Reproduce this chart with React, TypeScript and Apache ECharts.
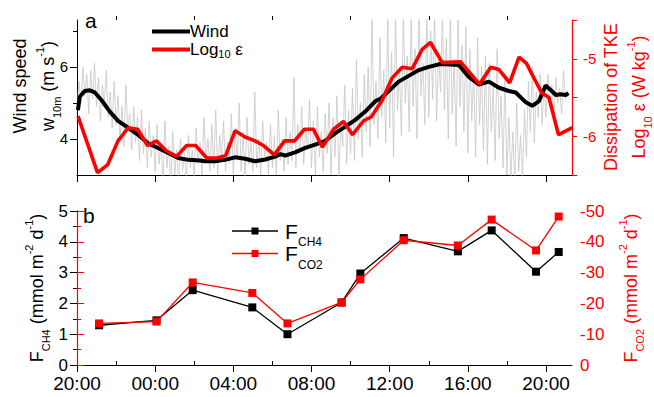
import { useEffect, useRef } from 'react';
import * as echarts from 'echarts';

const FONT = '"Liberation Sans", Arial, Helvetica, sans-serif';
const RED = '#ff0000';

// x axis in hours since 20:00
const X_MAX = 25.33;
const xTickHours = [0, 4, 8, 12, 16, 20, 24];
const xMinorHours = [2, 6, 10, 14, 18, 22];

// Panel a: smoothed 10 m wind speed (m s-1)
const windTimes = [0.05, 0.14, 0.39, 0.65, 0.91, 1.25, 1.68, 2.10, 2.62, 3.13, 3.64, 4.15, 4.67, 5.18, 5.69, 6.29, 6.55, 7.06, 7.57, 8.09, 8.60, 9.11, 9.63, 10.14, 10.40, 10.65, 11.16, 11.68, 12.19, 12.71, 13.22, 13.73, 14.24, 14.75, 15.27, 15.52, 15.95, 16.46, 16.97, 17.49, 18.0, 18.60, 19.54, 20.05, 20.56, 21.08, 21.59, 22.10, 22.45, 22.96, 23.30, 23.64, 23.98, 24.24, 24.50, 24.75, 25.01, 25.15];
const windValues = [4.80, 5.17, 5.33, 5.35, 5.29, 5.08, 4.76, 4.50, 4.31, 4.11, 3.88, 3.75, 3.61, 3.47, 3.42, 3.40, 3.38, 3.38, 3.42, 3.49, 3.45, 3.38, 3.43, 3.51, 3.58, 3.54, 3.63, 3.75, 3.84, 3.95, 4.16, 4.34, 4.53, 4.76, 5.05, 5.11, 5.33, 5.59, 5.75, 5.91, 6.00, 6.08, 6.05, 5.72, 5.51, 5.59, 5.42, 5.33, 5.29, 5.02, 4.92, 5.05, 5.48, 5.36, 5.22, 5.24, 5.22, 5.27];

// Panel a: log10 of TKE dissipation
const epsTimes = [0.05, 1.05, 1.56, 2.10, 2.62, 3.10, 3.61, 4.07, 4.58, 5.10, 5.61, 6.07, 6.64, 7.15, 7.61, 8.09, 8.60, 9.11, 9.54, 10.10, 10.62, 11.13, 11.64, 12.10, 12.56, 13.13, 13.64, 14.10, 14.67, 15.06, 15.61, 16.12, 16.64, 17.15, 17.66, 18.09, 18.69, 19.63, 20.60, 21.17, 21.59, 22.14, 22.62, 23.00, 23.47, 23.78, 24.15, 24.64, 25.35];
const epsValues = [-5.74, -6.47, -6.37, -6.06, -5.89, -5.91, -6.12, -6.06, -6.19, -6.26, -6.12, -6.12, -6.28, -6.28, -6.25, -5.93, -6.01, -6.06, -6.12, -6.24, -6.06, -6.06, -5.91, -5.91, -6.14, -5.91, -5.81, -5.98, -5.80, -5.75, -5.54, -5.25, -5.11, -5.13, -4.88, -4.79, -5.05, -5.04, -5.33, -5.11, -5.14, -5.31, -4.98, -5.06, -5.29, -5.44, -5.50, -5.98, -5.89];

// Panel a: raw wind speed, sampled every 0.1 h from 20:00
const GRAY_STEP = 0.1;
const grayValues = [
  4.8, 5.6, 5.0, 6.0, 5.2, 5.8, 4.7, 5.9, 5.1, 6.1,
  4.9, 5.7, 4.5, 5.5, 5.0, 5.9, 4.6, 5.3, 4.3, 5.6,
  4.4, 5.2, 4.0, 4.9, 3.8, 5.5, 4.2, 4.7, 3.7, 4.9,
  3.9, 4.6, 3.4, 4.8, 3.6, 4.3, 3.2, 4.5, 3.5, 4.1,
  3.1, 4.4, 3.3, 3.9, 2.8, 4.5, 3.2, 3.8, 2.8, 4.2,
  3.0, 3.7, 2.8, 4.0, 3.1, 3.6, 2.8, 4.1, 3.2, 3.7,
  2.9, 4.3, 3.3, 3.9, 3.0, 4.6, 3.4, 4.0, 3.1, 4.4,
  3.2, 4.8, 3.0, 4.1, 3.5, 4.5, 3.1, 3.9, 3.3, 4.7,
  3.0, 4.3, 3.4, 5.0, 3.1, 4.2, 2.9, 4.6, 3.3, 3.9,
  3.1, 5.3, 3.2, 4.0, 3.0, 4.5, 3.5, 3.9, 3.0, 4.4,
  3.2, 4.1, 3.0, 4.8, 3.4, 4.0, 3.1, 4.6, 3.3, 4.2,
  3.4, 5.7, 3.2, 4.4, 3.6, 4.9, 3.3, 4.3, 3.7, 5.1,
  3.2, 4.5, 3.0, 4.9, 3.5, 4.2, 3.1, 4.7, 3.6, 5.0,
  3.0, 4.6, 3.5, 5.2, 2.9, 4.4, 3.8, 5.5, 3.3, 4.8,
  3.6, 5.4, 3.4, 6.2, 4.0, 5.0, 3.5, 5.8, 4.2, 6.0,
  3.8, 7.5, 4.4, 5.6, 4.0, 6.8, 4.6, 5.9, 3.9, 7.5,
  4.3, 6.4, 3.5, 7.5, 4.8, 6.0, 4.1, 7.5, 5.0, 6.3,
  4.2, 7.5, 4.9, 6.5, 4.0, 7.5, 5.2, 6.1, 4.4, 7.5,
  4.6, 7.0, 5.1, 7.5, 4.5, 6.4, 5.3, 7.5, 4.8, 6.8,
  4.0, 7.5, 4.7, 6.2, 3.8, 7.3, 4.9, 6.6, 4.2, 7.1,
  3.6, 6.5, 4.5, 5.8, 3.5, 6.8, 4.4, 6.0, 3.7, 6.3,
  3.3, 6.1, 4.2, 5.5, 3.4, 6.5, 4.0, 5.2, 3.2, 5.8,
  3.0, 4.6, 2.9, 4.2, 2.8, 5.0, 3.1, 4.1, 2.9, 4.8,
  3.5, 5.6, 4.2, 6.0, 3.9, 5.3, 4.6, 5.8, 4.4, 5.5,
  4.6, 5.8, 4.9, 5.5, 4.5, 5.7, 5.0, 5.4, 4.7, 5.9, 5.1,
];

// Panel b: fluxes
const fluxTimes = [1.13, 4.07, 5.92, 8.97, 10.77, 13.54, 14.50, 16.72, 19.49, 21.22, 23.49, 24.65];
const ch4Values = [1.29, 1.45, 2.43, 1.87, 1.00, 2.03, 2.97, 4.12, 3.69, 4.37, 3.03, 3.67];
const co2Values = [-13.5, -14.1, -26.8, -23.4, -13.5, -20.3, -27.8, -40.5, -38.8, -47.2, -37.2, -48.2];

const pairs = (xs: number[], ys: number[]) => xs.map((x, i) => [x, ys[i]]);
const hourLabel = (v: number) => `${String((20 + Math.round(v)) % 24).padStart(2, '0')}:00`;

const titleRich = (color: string) => ({
  a: { fontSize: 18, lineHeight: 28, fontFamily: FONT, color },
  sub: { fontSize: 11, lineHeight: 16, verticalAlign: 'bottom', fontFamily: FONT, color },
  sup: { fontSize: 11, lineHeight: 18, verticalAlign: 'top', fontFamily: FONT, color },
});

export default function App() {
  const ref = useRef<HTMLDivElement>(null);

  useEffect(() => {
    if (!ref.current) return;
    const chart = echarts.init(ref.current, undefined, { renderer: 'svg' });
    const grid0 = { left: 77, top: 20, width: 495, height: 155 };
    const grid1 = { left: 77, top: 211, width: 495, height: 154 };
    const black = '#000000';

    const mainX = (gridIndex: number, labels: boolean) => ({
      type: 'value',
      gridIndex,
      min: 0,
      max: X_MAX,
      interval: 4,
      axisLine: { show: true, lineStyle: { color: black, width: 1 } },
      axisTick: { show: true, customValues: xTickHours, length: 7, lineStyle: { color: black } },
      axisLabel: labels
        ? { show: true, customValues: xTickHours, formatter: hourLabel, fontSize: 19, fontFamily: FONT, color: black, margin: 9 }
        : { show: false },
      splitLine: { show: false },
    });
    const minorX = (gridIndex: number) => ({
      type: 'value',
      gridIndex,
      min: 0,
      max: X_MAX,
      interval: 2,
      axisLine: { show: false },
      axisTick: { show: true, customValues: xMinorHours, length: 4, lineStyle: { color: black } },
      axisLabel: { show: false },
      splitLine: { show: false },
    });

    const option = {
      animation: false,
      backgroundColor: '#ffffff',
      textStyle: { fontFamily: FONT },
      grid: [grid0, grid1],
      xAxis: [mainX(0, false), minorX(0), mainX(1, true), minorX(1)],
      yAxis: [
        {
          type: 'value', gridIndex: 0, position: 'left', min: 3, max: 7.3, interval: 1,
          axisLine: { show: true, lineStyle: { color: black } },
          axisTick: { show: true, customValues: [4, 6], length: 7, lineStyle: { color: black } },
          axisLabel: { customValues: [4, 6], fontSize: 15, fontFamily: FONT, color: black, margin: 9 },
          splitLine: { show: false },
        },
        {
          type: 'value', gridIndex: 0, position: 'left', min: 3, max: 7.3, interval: 1,
          axisLine: { show: false },
          axisTick: { show: true, customValues: [5, 7], length: 4, lineStyle: { color: black } },
          axisLabel: { show: false },
          splitLine: { show: false },
        },
        {
          type: 'value', gridIndex: 0, position: 'right', min: -6.5, max: -4.5, interval: 0.5,
          axisLine: { show: true, lineStyle: { color: RED, width: 1.2 } },
          axisTick: { show: true, length: 5, lineStyle: { color: RED } },
          axisLabel: {
            formatter: (v: number) => (Number.isInteger(v) ? String(v) : ''),
            fontSize: 15, fontFamily: FONT, color: RED, margin: 11,
          },
          splitLine: { show: false },
        },
        {
          type: 'value', gridIndex: 1, position: 'left', min: 0, max: 5, interval: 1,
          axisLine: { show: true, lineStyle: { color: black } },
          axisTick: { show: true, length: 7, lineStyle: { color: black } },
          minorTick: { show: true, splitNumber: 2, length: 4, lineStyle: { color: black } },
          axisLabel: { fontSize: 17, fontFamily: FONT, color: black, margin: 9 },
          splitLine: { show: false },
          minorSplitLine: { show: false },
        },
        {
          type: 'value', gridIndex: 1, position: 'right', min: -50, max: 0, interval: 10, inverse: true,
          axisLine: { show: true, lineStyle: { color: RED, width: 1.2 } },
          axisTick: { show: true, length: 7, lineStyle: { color: RED } },
          minorTick: { show: true, splitNumber: 2, length: 4, lineStyle: { color: RED } },
          axisLabel: { fontSize: 17, fontFamily: FONT, color: RED, margin: 8 },
          splitLine: { show: false },
          minorSplitLine: { show: false },
        },
      ],
      legend: [
        {
          data: [
            { name: 'Wind', icon: 'rect' },
            { name: 'Log10 ε', icon: 'rect' },
          ],
          orient: 'vertical',
          left: 152,
          top: 23,
          padding: 0,
          itemWidth: 38,
          itemHeight: 4,
          itemGap: 1,
          selectedMode: false,
          formatter: (name: string) => (name === 'Wind' ? '{t|Wind}' : '{t|Log}{s|10}{t| ε}'),
          textStyle: {
            fontFamily: FONT, fontSize: 17, color: black, padding: [0, 0, 0, -5],
            rich: {
              t: { fontSize: 17, lineHeight: 20, fontFamily: FONT, color: black },
              s: { fontSize: 11, lineHeight: 12, verticalAlign: 'bottom', fontFamily: FONT, color: black },
            },
          },
        },
      ],
      series: [
        {
          name: 'raw', type: 'line', xAxisIndex: 0, yAxisIndex: 0, symbol: 'none', silent: true,
          data: grayValues.map((v, i) => [i * GRAY_STEP, v]),
          lineStyle: { color: '#c6c6c6', width: 0.8 },
          z: 1,
        },
        {
          name: 'Wind', type: 'line', xAxisIndex: 0, yAxisIndex: 0, symbol: 'none',
          data: pairs(windTimes, windValues),
          lineStyle: { color: black, width: 4 },
          itemStyle: { color: black },
          z: 2,
        },
        {
          name: 'Log10 ε', type: 'line', xAxisIndex: 0, yAxisIndex: 2, symbol: 'none',
          data: pairs(epsTimes, epsValues),
          lineStyle: { color: RED, width: 3.6 },
          itemStyle: { color: RED },
          z: 3,
        },
        {
          name: 'FCH4', type: 'line', xAxisIndex: 2, yAxisIndex: 3, symbol: 'rect', symbolSize: 8,
          data: pairs(fluxTimes, ch4Values),
          lineStyle: { color: black, width: 1.3 },
          itemStyle: { color: black },
          z: 2,
        },
        {
          name: 'FCO2', type: 'line', xAxisIndex: 2, yAxisIndex: 4, symbol: 'rect', symbolSize: 8,
          data: pairs(fluxTimes, co2Values),
          lineStyle: { color: RED, width: 1.3 },
          itemStyle: { color: RED },
          z: 3,
        },
      ],
      graphic: [
        { type: 'text', x: 85, y: 20, style: { text: 'a', fontSize: 21, fontFamily: FONT, fill: black, verticalAlign: 'middle' } },
        { type: 'text', x: 83, y: 215, style: { text: 'b', fontSize: 21, fontFamily: FONT, fill: black, verticalAlign: 'middle' } },
        {
          type: 'text', x: 34, y: 86, rotation: Math.PI / 2,
          style: {
            text: '{a|Wind speed}\n{a|w}{sub|10m}{a| (m s}{sup|-1}{a|)}',
            rich: titleRich(black), align: 'center', verticalAlign: 'middle', fill: black,
          },
        },
        {
          type: 'text', x: 625, y: 97, rotation: Math.PI / 2,
          style: {
            text: '{a|Dissipation of TKE}\n{a|Log}{sub|10}{a| ε (W kg}{sup|-1}{a|)}',
            rich: titleRich(RED), align: 'center', verticalAlign: 'middle', fill: RED,
          },
        },
        {
          type: 'text', x: 37, y: 288, rotation: Math.PI / 2,
          style: {
            text: '{a|F}{sub|CH4}{a| (mmol m}{sup|-2}{a| d}{sup|-1}{a|)}',
            rich: titleRich(black), align: 'center', verticalAlign: 'middle', fill: black,
          },
        },
        {
          type: 'text', x: 631, y: 288, rotation: Math.PI / 2,
          style: {
            text: '{a|F}{sub|CO2}{a| (mmol m}{sup|-2}{a| d}{sup|-1}{a|)}',
            rich: titleRich(RED), align: 'center', verticalAlign: 'middle', fill: RED,
          },
        },
        // legend of panel b
        { type: 'line', shape: { x1: 232, y1: 231, x2: 278, y2: 231 }, style: { stroke: black, lineWidth: 1.3 } },
        { type: 'rect', shape: { x: 251.5, y: 227.5, width: 7, height: 7 }, style: { fill: black } },
        { type: 'text', x: 285, y: 231, style: { text: 'F', fontSize: 21, fontFamily: FONT, fill: black, verticalAlign: 'middle' } },
        { type: 'text', x: 298, y: 242, style: { text: 'CH4', fontSize: 12, fontFamily: FONT, fill: black, verticalAlign: 'middle' } },
        { type: 'line', shape: { x1: 232, y1: 253.5, x2: 278, y2: 253.5 }, style: { stroke: RED, lineWidth: 1.3 } },
        { type: 'rect', shape: { x: 251.5, y: 250, width: 7, height: 7 }, style: { fill: RED } },
        { type: 'text', x: 285, y: 253.5, style: { text: 'F', fontSize: 21, fontFamily: FONT, fill: black, verticalAlign: 'middle' } },
        { type: 'text', x: 298, y: 265, style: { text: 'CO2', fontSize: 12, fontFamily: FONT, fill: black, verticalAlign: 'middle' } },
      ],
    };

    chart.setOption(option as any);
    return () => chart.dispose();
  }, []);

  return (
    <div
      ref={ref}
      style={{ position: 'fixed', left: 0, top: 0, width: 654, height: 397, background: '#ffffff' }}
    />
  );
}
